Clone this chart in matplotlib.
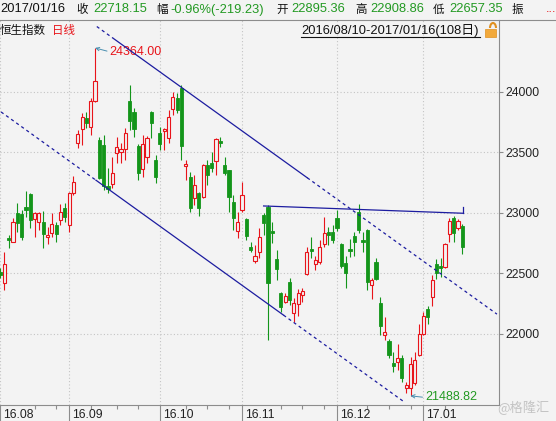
"""
Hang Seng Index daily candlestick chart (2016/08/10 - 2017/01/16, 108 days)
with a falling channel and a flat resistance line, styled like a quote terminal.
"""
import numpy as np
import matplotlib
matplotlib.use("Agg")
import matplotlib.pyplot as plt
from matplotlib.patches import Rectangle, Arc
from matplotlib.transforms import offset_copy, IdentityTransform

W, H, DPI = 556, 421, 100

# daily OHLC, one entry per trading day (index 0 = 2016/08/10)
opens = [
    22512, 22422, 22793, 22760, 23000, 22992, 23050, 23157, 22950, 22926,
    22926, 22802, 22835, 22901, 22942, 23041, 22901, 23165, 23578, 23694,
    23785, 23711, 23926, 23603, 23562, 23223, 23240, 23496, 23504, 23529,
    23926, 23835, 23554, 23364, 23463, 23835, 23438, 23661, 23678, 23620,
    23859, 23950, 24033, 23388, 23298, 23124, 23165, 23132, 23397, 23413,
    23430, 23595, 23397, 23355, 23091, 22851, 23025, 22950, 22719, 22603,
    22678, 22983, 23050, 22851, 22620, 22339, 22265, 22430, 22174, 22248,
    22322, 22496, 22702, 22579, 22595, 22744, 22843, 22843, 22959, 22744,
    22587, 22702, 22810, 23008, 22777, 22860, 22405, 22595, 22256, 21992,
    21942, 21760, 21769, 21802, 21554, 21554, 21595, 21827, 22000, 22207,
    22306, 22579, 22562, 22554, 22826, 22959, 22876, 22895.36]
highs = [
    22545, 22678, 22818, 22959, 23083, 23025, 23182, 23165, 23008, 23008,
    23017, 22884, 23000, 22926, 23074, 23083, 23174, 23306, 23686, 23826,
    23835, 23950, 24364, 23628, 23645, 23372, 23463, 23628, 23578, 23702,
    24058, 23868, 23570, 23645, 23636, 23843, 23479, 23711, 23702, 23851,
    24000, 23992, 24058, 23438, 23339, 23314, 23174, 23405, 23438, 23504,
    23620, 23628, 23463, 23355, 23149, 23008, 23256, 22959, 22760, 22736,
    22876, 23000, 23066, 22926, 22694, 22347, 22339, 22463, 22298, 22372,
    22380, 22719, 22802, 22645, 22777, 22967, 22884, 22901, 23025, 22752,
    22645, 22785, 22843, 23074, 22843, 22868, 22463, 22628, 22306, 22141,
    21959, 21851, 21917, 21827, 21603, 21810, 21851, 22083, 22182, 22231,
    22488, 22620, 22628, 22752, 22959, 22975, 22950, 22908.86]
lows = [
    22463, 22364, 22711, 22760, 22843, 22777, 22967, 22876, 22802, 22860,
    22711, 22744, 22802, 22760, 22901, 22926, 22843, 23149, 23537, 23562,
    23702, 23645, 23917, 23281, 23190, 23165, 23207, 23413, 23413, 23438,
    23686, 23628, 23273, 23298, 23413, 23620, 23248, 23521, 23521, 23578,
    23810, 23826, 23438, 23273, 23008, 23066, 22975, 23124, 23231, 23339,
    23314, 23545, 23314, 23008, 22860, 22793, 23008, 22777, 22678, 22587,
    22628, 22818, 21950, 22752, 22446, 22182, 22256, 22240, 22099, 22149,
    22265, 22488, 22628, 22529, 22579, 22719, 22736, 22752, 22851, 22545,
    22380, 22636, 22645, 22835, 22678, 22364, 22289, 22446, 21992, 21950,
    21802, 21686, 21703, 21603, 21512, 21488.82, 21579, 21818, 21992, 22083,
    22231, 22455, 22471, 22545, 22760, 22760, 22860, 22657.35]
closes = [
    22488, 22579, 22777, 22926, 22917, 22802, 23025, 22942, 23000, 23000,
    22826, 22818, 22909, 22826, 23008, 22967, 23165, 23256, 23653, 23793,
    23744, 23926, 24091, 23289, 23223, 23198, 23331, 23545, 23529, 23661,
    23760, 23694, 23331, 23570, 23620, 23744, 23298, 23570, 23694, 23793,
    23959, 23851, 23554, 23405, 23041, 23231, 23041, 23397, 23314, 23372,
    23612, 23578, 23331, 23132, 22959, 22926, 23149, 22810, 22694, 22645,
    22802, 22917, 22422, 22835, 22537, 22223, 22314, 22281, 22256, 22339,
    22355, 22678, 22686, 22612, 22719, 22835, 22818, 22777, 22876, 22562,
    22504, 22686, 22760, 22860, 22760, 22430, 22446, 22455, 22066, 22017,
    21827, 21736, 21802, 21636, 21579, 21752, 21785, 22000, 22149, 22141,
    22446, 22504, 22545, 22744, 22934, 22835, 22937.38, 22718.15]

month_labels = ["16.08", "16.09", "16.10", "16.11", "16.12", "17.01"]
month_starts = [0, 16, 37, 56, 78, 98]
minor_ticks = [8, 13, 21, 27, 32, 43, 48, 53, 65, 70, 75, 85, 90, 95, 103]
price_ticks = [22000, 22500, 23000, 23500, 24000]

# drawn lines: solid anchor segment (index, price) + dotted extension range
upper_solid = [(26.3, 24441), (71.1, 23291)]
upper_ext = (22.4, 115.0)
lower_solid = [(22.2, 23271), (65.6, 22156)]
lower_ext = (0.23, 93.3)
flat_line = [(61, 23058), (107, 22998)]

hi_idx, hi_val = 22, 24364.00
lo_idx, lo_val = 95, 21488.82

BG = "#f3f3f3"
RED = "#e8141a"
GREEN = "#13951a"
TXT_GREEN = "#229922"
NAVY = "#1c1ca0"
TEAL = "#4a8fb0"
AXC = "#8c8c8c"
FONT = ["Liberation Sans", "Noto Sans CJK SC"]
CJK = ["Noto Sans CJK SC", "Liberation Sans"]


def fx(px):
    return px / W


def fy(py):
    return 1 - py / H


fig = plt.figure(figsize=(W / DPI, H / DPI), dpi=DPI, facecolor=BG)
ax = fig.add_axes([0, 16 / H, 499 / W, 385 / H], facecolor=BG)

o, h, l, c = (np.array(a, dtype=float) for a in (opens, highs, lows, closes))
bw = 0.74
min_body = 6
for i in range(len(o)):
    top, bot = max(o[i], c[i]), min(o[i], c[i])
    if c[i] >= o[i]:
        ax.vlines(i, top, h[i], color=RED, lw=0.8)
        ax.vlines(i, l[i], bot, color=RED, lw=0.8)
        ax.add_patch(Rectangle((i - bw / 2, bot), bw, max(top - bot, min_body),
                               fc=BG, ec=RED, lw=0.8, zorder=3))
    else:
        ax.vlines(i, l[i], h[i], color=GREEN, lw=0.8)
        ax.add_patch(Rectangle((i - bw / 2, bot), bw, max(top - bot, min_body),
                               fc=GREEN, ec=GREEN, lw=0.6, zorder=3))


def draw_line(solid, ext):
    (x0, y0), (x1, y1) = solid
    k = (y1 - y0) / (x1 - x0)
    xs = np.array([ext[0], x0])
    ax.plot(xs, y0 + k * (xs - x0), color=NAVY, lw=0.9, ls=(0, (2.5, 2.5)), zorder=4)
    ax.plot([x0, x1], [y0, y1], color=NAVY, lw=0.9, zorder=4)
    xs = np.array([x1, ext[1]])
    ax.plot(xs, y0 + k * (xs - x0), color=NAVY, lw=0.9, ls=(0, (2.5, 2.5)), zorder=4)


draw_line(upper_solid, upper_ext)
draw_line(lower_solid, lower_ext)
(fx0, fy0), (fx1, fy1) = flat_line
ax.plot([fx0, fx1], [fy0, fy1], color=NAVY, lw=0.9, zorder=4)
ax.plot([fx1 + 0.1, fx1 + 0.1], [fy1, fy1 + 55], color=NAVY, lw=0.9, zorder=4)

# high / low markers
ax.annotate(f"{hi_val:.2f}", xy=(hi_idx, hi_val), xytext=(10.6, -2.8),
            textcoords="offset points", ha="left", va="center", fontsize=9,
            family=FONT, color=RED,
            arrowprops=dict(arrowstyle="->", color=TEAL, lw=0.7, relpos=(0, 0.5),
                            shrinkA=0, shrinkB=0, mutation_scale=6))
ax.annotate(f"{lo_val:.2f}", xy=(lo_idx, lo_val), xytext=(10.6, -1.2),
            textcoords="offset points", ha="left", va="center", fontsize=9,
            family=FONT, color=TXT_GREEN,
            arrowprops=dict(arrowstyle="->", color=TEAL, lw=0.7, relpos=(0, 0.5),
                            shrinkA=0, shrinkB=0, mutation_scale=6))

ax.set_xlim(1 / 4.33, 500 / 4.33)
ax.set_ylim(21413, 24595)

ax.set_xticks(month_starts)
ax.set_xticks(minor_ticks, minor=True)
ax.set_xticklabels([])
ax.tick_params(axis="x", which="major", length=11.5, width=0.8, color=AXC)
ax.tick_params(axis="x", which="minor", length=3, width=0.8, color=AXC)
ax.yaxis.tick_right()
ax.set_yticks(price_ticks)
ax.set_yticklabels([str(p) for p in price_ticks], family=FONT, fontsize=8.8, color="#222222")
ax.tick_params(axis="y", length=3, width=0.8, color=AXC, pad=1.5)
ax.grid(True, color="#c4c4c4", lw=0.8, ls=(0, (1, 2)))
for side in ("left", "top"):
    ax.spines[side].set_visible(False)
for side in ("right", "bottom"):
    ax.spines[side].set_color(AXC)
    ax.spines[side].set_linewidth(0.8)

lab_tr = offset_copy(ax.get_xaxis_transform(), fig=fig, x=3, y=-10, units="dots")
for i, lab in zip(month_starts, month_labels):
    ax.text(i, 0, lab, transform=lab_tr, ha="left", va="center", fontsize=8.8,
            family=FONT, color="#222222", clip_on=False)

# header rows
fig.add_artist(plt.Line2D([0, 1], [fy(20), fy(20)], color=AXC, lw=0.8))
row1 = [
    (0, "2017/01/16", "#111111", FONT),
    (76, "收", "#111111", CJK),
    (93, "22718.15", TXT_GREEN, FONT),
    (156, "幅", "#111111", CJK),
    (170, "-0.96%(-219.23)", TXT_GREEN, FONT),
    (276, "开", "#111111", CJK),
    (291, "22895.36", TXT_GREEN, FONT),
    (355, "高", "#111111", CJK),
    (370, "22908.86", TXT_GREEN, FONT),
    (433, "低", "#111111", CJK),
    (449, "22657.35", TXT_GREEN, FONT),
    (512, "振", "#111111", CJK),
    (546, "...", RED, FONT),
]
for px, s, col, fam in row1:
    size = 9.3 if fam is FONT else 8.3
    fig.text(fx(px), fy(9.5), s, ha="left", va="center", fontsize=size,
             family=fam, color=col)

fig.text(fx(0), fy(30.5), "恒生指数", ha="left", va="center", fontsize=8.3,
         family=CJK, color="#111111")
fig.text(fx(52), fy(30.5), "日线", ha="left", va="center", fontsize=8.3,
         family=CJK, color=RED)
fig.text(fx(301), fy(30.5), "2016/08/10-2017/01/16(108日)", ha="left", va="center",
         fontsize=9.3, family=FONT, color="#111111")
fig.add_artist(plt.Line2D([fx(301), fx(480)], [fy(37), fy(37)], color="#111111", lw=0.8))

# little unlocked padlock
fig.add_artist(Rectangle((485, H - 37), 11, 8, transform=IdentityTransform(),
                         fc="#f2a93b", ec="#e09020", lw=0.5))
fig.add_artist(Arc((493, H - 28), 6, 10, theta1=0, theta2=180,
                   transform=IdentityTransform(), color="#e09020", lw=1.5))

fig.text(fx(497), fy(408), "@格隆汇", ha="left", va="center", fontsize=9.5,
         family=CJK, color="#c4c4c4")

fig.savefig("out.png", dpi=DPI, facecolor=BG)
